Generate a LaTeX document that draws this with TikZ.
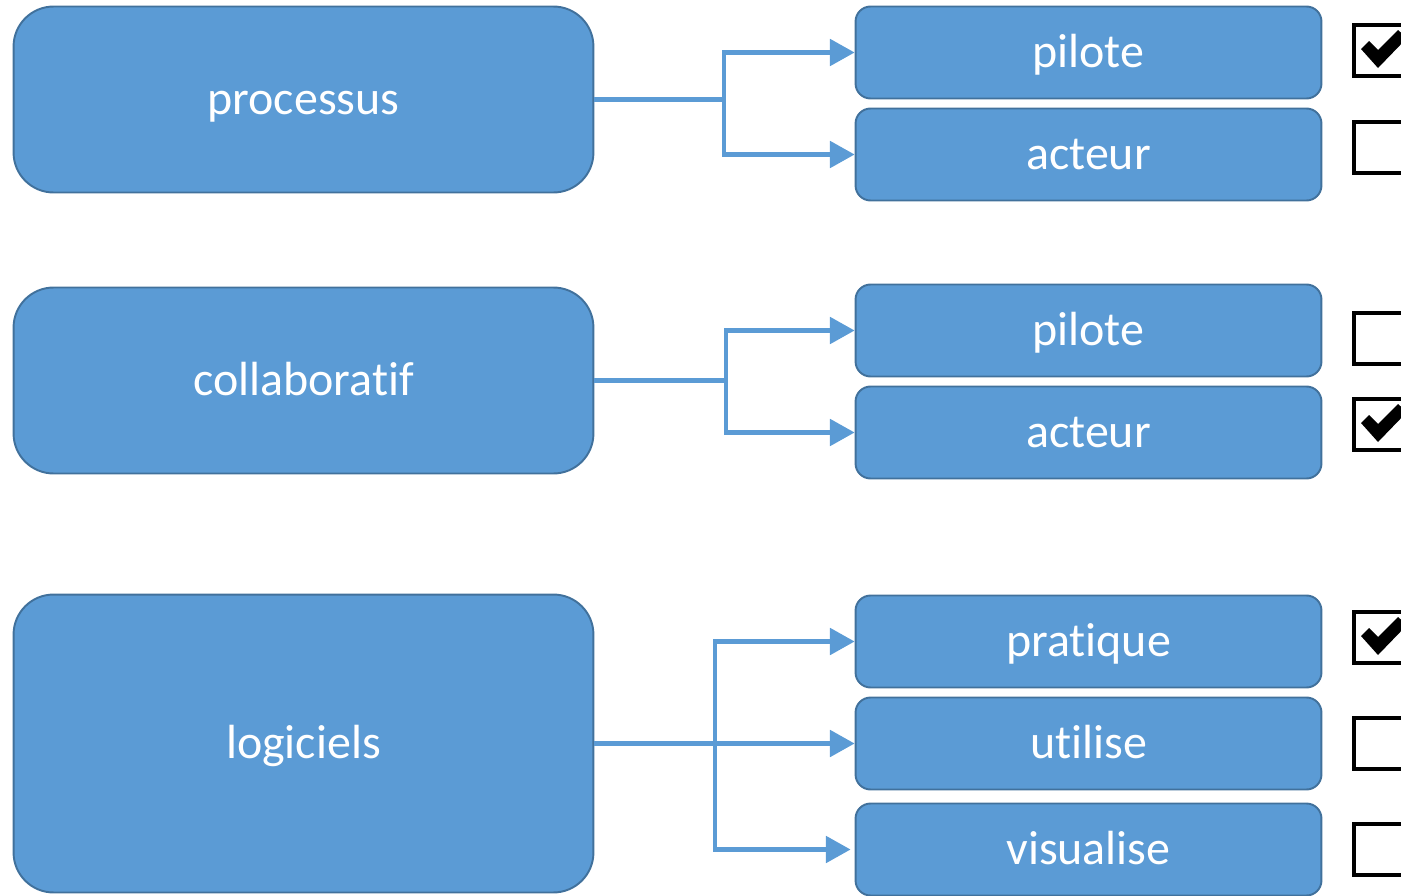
\documentclass[tikz,border=0pt]{standalone}
\usepackage{fontspec}
\setmainfont{Carlito}[Ligatures=NoCommon]
\usetikzlibrary{arrows.meta}
\definecolor{boxblue}{HTML}{5B9BD5}
\definecolor{boxedge}{HTML}{41719C}
\begin{document}
\begin{tikzpicture}
		[x=0.02cm,y=-0.02cm,
		mainbox/.style={shape=rectangle, draw=boxedge, fill=boxblue, line width=1.1pt, rounded corners=0.8cm, minimum width=11.6cm, minimum height=3.72cm, text=white, text height=22pt, text depth=4.4pt, font=\fontsize{27.3}{31}\selectfont},
		subbox/.style={mainbox, rounded corners=0.3cm, minimum width=9.32cm, minimum height=1.84cm},
		link/.style={draw=boxblue, line width=2.3pt},
		arrow/.style={link, -{Triangle[length=14pt,width=15pt]}}]
		\useasboundingbox (0,0) rectangle (1401,896);
		\clip (0,0) rectangle (1401,896);
		% left column
		\node[mainbox] (proc) at (303.5,99.5) {processus};
		\node[mainbox] (coll) at (303.5,380.5) {collaboratif};
		\node[mainbox, minimum height=5.96cm] (logi) at (303.5,743.5) {logiciels};
		% right column
		\node[subbox] (pil1) at (1088.5,52.5)  {pilote};
		\node[subbox] (act1) at (1088.5,154.5) {acteur};
		\node[subbox] (pil2) at (1088.5,330.5) {pilote};
		\node[subbox] (act2) at (1088.5,432.5) {acteur};
		\node[subbox] (prat) at (1088.5,641.5) {pratique};
		\node[subbox] (util) at (1088.5,743.5) {utilise};
		\node[subbox] (visu) at (1088.5,849.5) {visualise};
		% junctions
		\coordinate (j1) at (724,99.5);
		\coordinate (j2) at (726,380.5);
		\coordinate (j3) at (715,743.5);
		\draw[link] (proc.east) -- (j1);
		\draw[link] (coll.east) -- (j2);
		\foreach \from/\to in {j1/pil1,j1/act1,j2/pil2,j2/act2,j3/prat}
		\draw[arrow]  (\from) |- (\to.west);
		\draw[arrow, shorten >=1\pgflinewidth] (j3) |- (visu.west);
		\draw[arrow] (logi.east) -- (util.west);
		% checkboxes
		\foreach \y/\c in {25/1,122/0,313/0,399/1,612/1,718/0,824/0}{
		\draw[line width=2.3pt] (1354,\y) rectangle (1412,\y+51);
		\ifnum\c=1
		\fill (1361,\y+24) -- (1369,\y+16) -- (1378,\y+25) -- (1398,\y+5) -- (1407,\y+13) -- (1378,\y+43) -- cycle;
		\fi
		}
	\end{tikzpicture}
\end{document}
